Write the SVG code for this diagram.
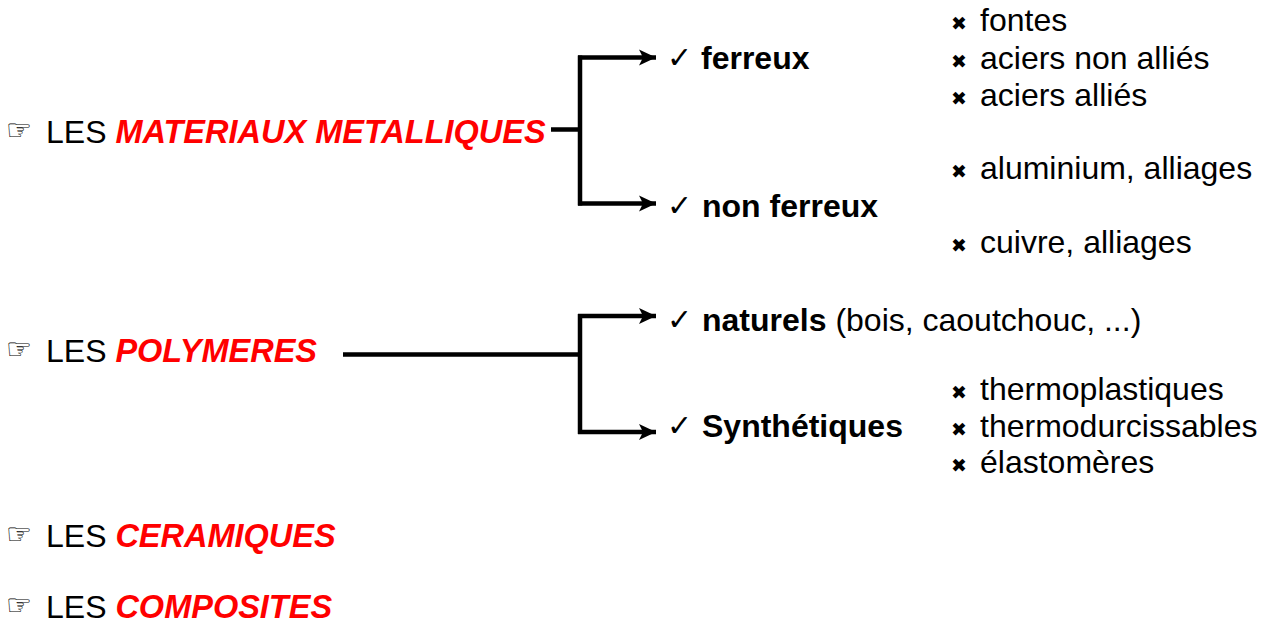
<svg xmlns="http://www.w3.org/2000/svg" width="1266" height="624" viewBox="0 0 1266 624">
<defs>
<style>
text{font-family:"Liberation Sans",Arial,sans-serif;font-size:32px;fill:#000}
.b{font-weight:bold}
.r{font-weight:bold;font-style:italic;fill:#ff0000;font-size:32.5px}
.hand{font-family:"DejaVu Sans",sans-serif;font-size:29px}
.chk{font-family:"DejaVu Sans",sans-serif;font-size:30px}
.x{font-family:"DejaVu Sans",sans-serif;font-size:19px}
.ln{stroke:#000;stroke-width:4.5;fill:none}
</style>
<marker id="ah" markerWidth="18" markerHeight="18" refX="17" refY="9" markerUnits="userSpaceOnUse" orient="auto">
<path d="M0,1 L17,9 L0,17 L4,9 Z" fill="#000"/>
</marker>
</defs>
<rect width="1266" height="624" fill="#fff"/>
<g id="connectors">
<path class="ln" d="M551,129.5 H580"/>
<path class="ln" d="M580,55.5 V205.5"/>
<path class="ln" d="M578,57.5 H656" marker-end="url(#ah)"/>
<path class="ln" d="M578,203.5 H656" marker-end="url(#ah)"/>
<path class="ln" d="M343,354.5 H580"/>
<path class="ln" d="M580,314 V434"/>
<path class="ln" d="M578,316 H656" marker-end="url(#ah)"/>
<path class="ln" d="M578,432 H656" marker-end="url(#ah)"/>
</g>
<g id="metalliques">
<text class="hand" x="6" y="140">☞</text>
<text x="46" y="143">LES <tspan class="r">MATERIAUX METALLIQUES</tspan></text>
</g>
<g id="ferreux">
<text class="chk" x="667" y="68">✓</text>
<text class="b" x="701" y="69">ferreux</text>
</g>
<g id="non-ferreux">
<text class="chk" x="667" y="216">✓</text>
<text class="b" x="702" y="217">non ferreux</text>
</g>
<g id="ferreux-list">
<text class="x" x="951" y="30">✖</text><text x="980" y="31">fontes</text>
<text class="x" x="951" y="68">✖</text><text x="980" y="69">aciers non alliés</text>
<text class="x" x="951" y="105">✖</text><text x="980" y="106">aciers alliés</text>
</g>
<g id="non-ferreux-list">
<text class="x" x="951" y="178">✖</text><text x="980" y="179">aluminium, alliages</text>
<text class="x" x="951" y="252">✖</text><text x="980" y="253">cuivre, alliages</text>
</g>
<g id="polymeres">
<text class="hand" x="6" y="359">☞</text>
<text x="46" y="362">LES <tspan class="r">POLYMERES</tspan></text>
</g>
<g id="naturels">
<text class="chk" x="667" y="330">✓</text>
<text x="702" y="331"><tspan class="b">naturels</tspan> (bois, caoutchouc, ...)</text>
</g>
<g id="synthetiques">
<text class="chk" x="667" y="436">✓</text>
<text class="b" x="702" y="437">Synthétiques</text>
</g>
<g id="synthetiques-list">
<text class="x" x="951" y="399">✖</text><text x="980" y="400">thermoplastiques</text>
<text class="x" x="951" y="436">✖</text><text x="980" y="437">thermodurcissables</text>
<text class="x" x="951" y="472">✖</text><text x="980" y="473">élastomères</text>
</g>
<g id="ceramiques">
<text class="hand" x="6" y="544">☞</text>
<text x="46" y="547">LES <tspan class="r">CERAMIQUES</tspan></text>
</g>
<g id="composites">
<text class="hand" x="6" y="615">☞</text>
<text x="46" y="618">LES <tspan class="r">COMPOSITES</tspan></text>
</g>
</svg>
